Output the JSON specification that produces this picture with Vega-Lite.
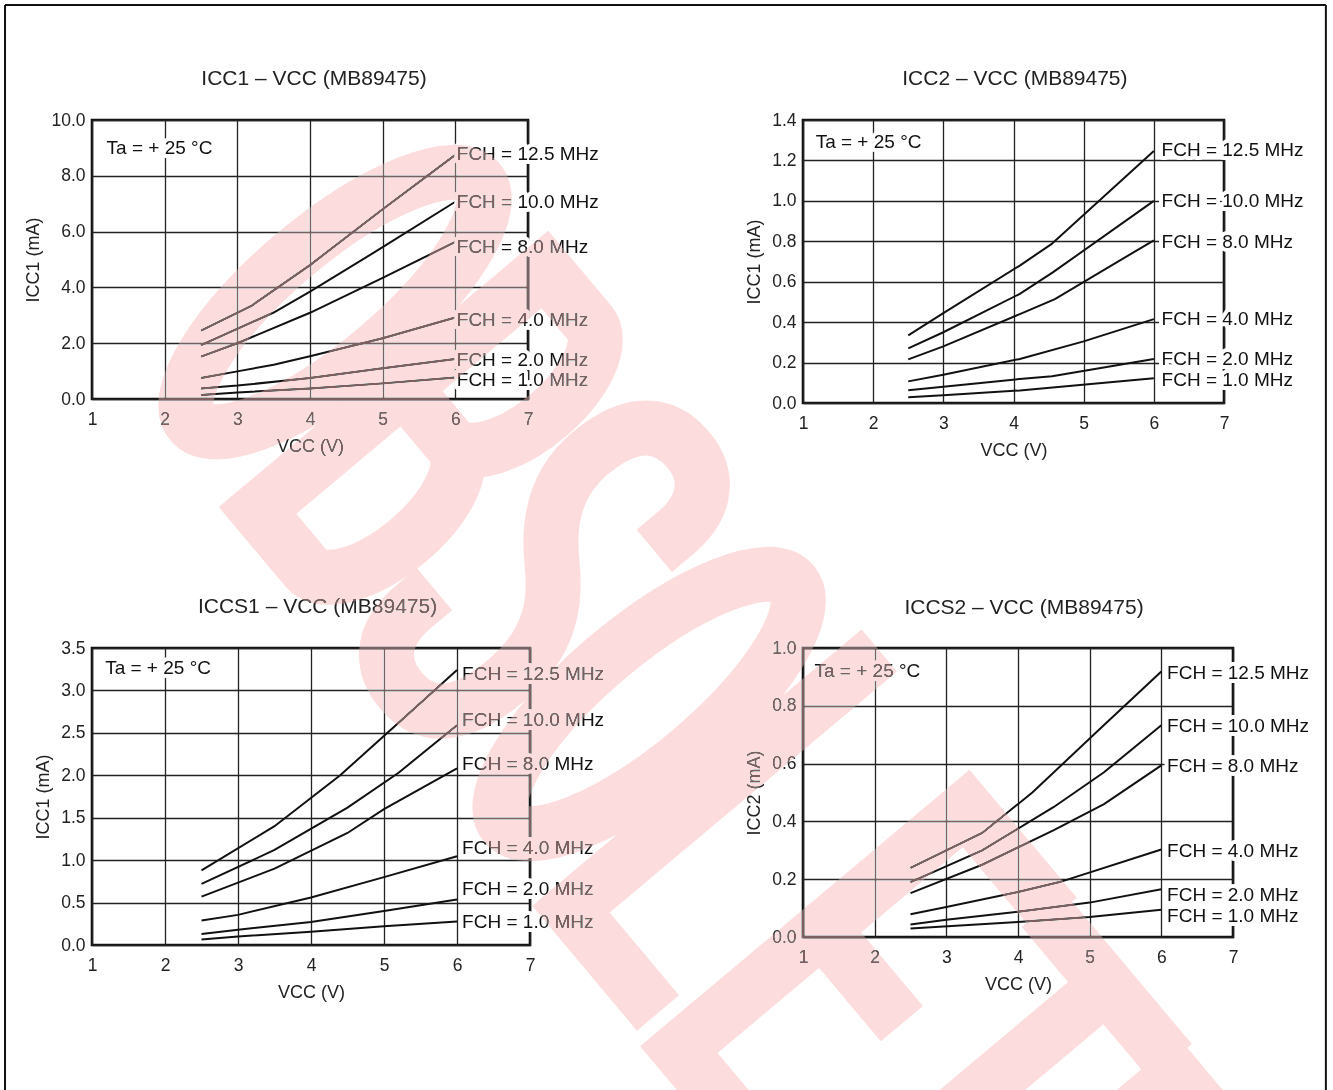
{
  "$schema": "https://vega.github.io/schema/vega-lite/v6.json",
  "background": "white",
  "padding": {"left": 2, "top": 2, "right": 0, "bottom": 0},
  "columns": 2,
  "spacing": {"row": 245, "column": 273},
  "bounds": "flush",
  "datasets": {
    "tl": [
      {"f": "12.5", "v": 2.5, "i": 2.45}, {"f": "12.5", "v": 3.2, "i": 3.35}, {"f": "12.5", "v": 4, "i": 4.8}, {"f": "12.5", "v": 5, "i": 6.8}, {"f": "12.5", "v": 6, "i": 8.75},
      {"f": "10.0", "v": 2.5, "i": 1.93}, {"f": "10.0", "v": 3.5, "i": 3.1}, {"f": "10.0", "v": 4, "i": 3.85}, {"f": "10.0", "v": 5, "i": 5.44}, {"f": "10.0", "v": 6, "i": 7.07},
      {"f": "8.0", "v": 2.5, "i": 1.52}, {"f": "8.0", "v": 3, "i": 2.0}, {"f": "8.0", "v": 4, "i": 3.09}, {"f": "8.0", "v": 5, "i": 4.34}, {"f": "8.0", "v": 6, "i": 5.63},
      {"f": "4.0", "v": 2.5, "i": 0.75}, {"f": "4.0", "v": 3, "i": 0.99}, {"f": "4.0", "v": 3.5, "i": 1.23}, {"f": "4.0", "v": 4, "i": 1.53}, {"f": "4.0", "v": 5, "i": 2.18}, {"f": "4.0", "v": 6, "i": 2.92},
      {"f": "2.0", "v": 2.5, "i": 0.38}, {"f": "2.0", "v": 3, "i": 0.48}, {"f": "2.0", "v": 4, "i": 0.75}, {"f": "2.0", "v": 5, "i": 1.1}, {"f": "2.0", "v": 6, "i": 1.43},
      {"f": "1.0", "v": 2.5, "i": 0.14}, {"f": "1.0", "v": 3, "i": 0.23}, {"f": "1.0", "v": 4, "i": 0.38}, {"f": "1.0", "v": 5, "i": 0.56}, {"f": "1.0", "v": 6, "i": 0.77}
    ],
    "tl_lab": [
      {"v": 6.02, "i": 8.78, "t": "FCH = 12.5 MHz"},
      {"v": 6.02, "i": 7.06, "t": "FCH = 10.0 MHz"},
      {"v": 6.02, "i": 5.45, "t": "FCH = 8.0 MHz"},
      {"v": 6.02, "i": 2.82, "t": "FCH = 4.0 MHz"},
      {"v": 6.02, "i": 1.4, "t": "FCH = 2.0 MHz"},
      {"v": 6.02, "i": 0.68, "t": "FCH = 1.0 MHz"},
      {"v": 1.2, "i": 9.0, "t": "Ta = + 25 °C"}
    ],
    "tl_title": [{"v": 4.055, "i": 11.47, "t": "ICC1 – VCC (MB89475)"}],
    "frame": [
      {"v": -0.197, "i": 14.12, "v2": 17.98, "i2": 14.12},
      {"v": -0.197, "i": 14.12, "v2": -0.197, "i2": -25.0},
      {"v": 17.98, "i": 14.12, "v2": 17.98, "i2": -25.0}
    ],
    "tr": [
      {"f": "12.5", "v": 2.5, "i": 0.335}, {"f": "12.5", "v": 3, "i": 0.445}, {"f": "12.5", "v": 4.09, "i": 0.68}, {"f": "12.5", "v": 4.54, "i": 0.786}, {"f": "12.5", "v": 6, "i": 1.247},
      {"f": "10.0", "v": 2.5, "i": 0.27}, {"f": "10.0", "v": 3, "i": 0.35}, {"f": "10.0", "v": 4.09, "i": 0.54}, {"f": "10.0", "v": 4.56, "i": 0.646}, {"f": "10.0", "v": 6, "i": 1.0},
      {"f": "8.0", "v": 2.5, "i": 0.216}, {"f": "8.0", "v": 3, "i": 0.28}, {"f": "8.0", "v": 4.09, "i": 0.44}, {"f": "8.0", "v": 4.59, "i": 0.514}, {"f": "8.0", "v": 6, "i": 0.805},
      {"f": "4.0", "v": 2.5, "i": 0.107}, {"f": "4.0", "v": 3, "i": 0.14}, {"f": "4.0", "v": 4.09, "i": 0.218}, {"f": "4.0", "v": 5, "i": 0.305}, {"f": "4.0", "v": 6, "i": 0.415},
      {"f": "2.0", "v": 2.5, "i": 0.063}, {"f": "2.0", "v": 3, "i": 0.08}, {"f": "2.0", "v": 4.09, "i": 0.119}, {"f": "2.0", "v": 4.55, "i": 0.132}, {"f": "2.0", "v": 6, "i": 0.218},
      {"f": "1.0", "v": 2.5, "i": 0.029}, {"f": "1.0", "v": 3, "i": 0.038}, {"f": "1.0", "v": 4.09, "i": 0.062}, {"f": "1.0", "v": 6, "i": 0.122}
    ],
    "tr_lab": [
      {"v": 6.11, "i": 1.25, "t": "FCH = 12.5 MHz"},
      {"v": 6.11, "i": 0.998, "t": "FCH = 10.0 MHz"},
      {"v": 6.11, "i": 0.794, "t": "FCH = 8.0 MHz"},
      {"v": 6.11, "i": 0.415, "t": "FCH = 4.0 MHz"},
      {"v": 6.11, "i": 0.218, "t": "FCH = 2.0 MHz"},
      {"v": 6.11, "i": 0.116, "t": "FCH = 1.0 MHz"},
      {"v": 1.18, "i": 1.29, "t": "Ta = + 25 °C"}
    ],
    "tr_title": [{"v": 4.02, "i": 1.603, "t": "ICC2 – VCC (MB89475)"}],
    "bl": [
      {"f": "12.5", "v": 2.5, "i": 0.88}, {"f": "12.5", "v": 3.5, "i": 1.4}, {"f": "12.5", "v": 4.4, "i": 2.0}, {"f": "12.5", "v": 5.2, "i": 2.62}, {"f": "12.5", "v": 6, "i": 3.24},
      {"f": "10.0", "v": 2.5, "i": 0.72}, {"f": "10.0", "v": 3.5, "i": 1.12}, {"f": "10.0", "v": 4.5, "i": 1.62}, {"f": "10.0", "v": 5.2, "i": 2.03}, {"f": "10.0", "v": 6, "i": 2.59},
      {"f": "8.0", "v": 2.5, "i": 0.57}, {"f": "8.0", "v": 3.5, "i": 0.9}, {"f": "8.0", "v": 4.5, "i": 1.32}, {"f": "8.0", "v": 5, "i": 1.6}, {"f": "8.0", "v": 6, "i": 2.08},
      {"f": "4.0", "v": 2.5, "i": 0.29}, {"f": "4.0", "v": 3, "i": 0.355}, {"f": "4.0", "v": 4, "i": 0.56}, {"f": "4.0", "v": 5, "i": 0.8}, {"f": "4.0", "v": 6, "i": 1.045},
      {"f": "2.0", "v": 2.5, "i": 0.13}, {"f": "2.0", "v": 3, "i": 0.18}, {"f": "2.0", "v": 4, "i": 0.27}, {"f": "2.0", "v": 5, "i": 0.4}, {"f": "2.0", "v": 6, "i": 0.537},
      {"f": "1.0", "v": 2.5, "i": 0.065}, {"f": "1.0", "v": 3, "i": 0.1}, {"f": "1.0", "v": 4, "i": 0.155}, {"f": "1.0", "v": 5, "i": 0.22}, {"f": "1.0", "v": 6, "i": 0.277}
    ],
    "bl_lab": [
      {"v": 6.07, "i": 3.19, "t": "FCH = 12.5 MHz"},
      {"v": 6.07, "i": 2.65, "t": "FCH = 10.0 MHz"},
      {"v": 6.07, "i": 2.13, "t": "FCH = 8.0 MHz"},
      {"v": 6.07, "i": 1.14, "t": "FCH = 4.0 MHz"},
      {"v": 6.07, "i": 0.66, "t": "FCH = 2.0 MHz"},
      {"v": 6.07, "i": 0.27, "t": "FCH = 1.0 MHz"},
      {"v": 1.18, "i": 3.26, "t": "Ta = + 25 °C"}
    ],
    "bl_title": [{"v": 4.09, "i": 3.983, "t": "ICCS1 – VCC (MB89475)"}],
    "br": [
      {"f": "12.5", "v": 2.5, "i": 0.239}, {"f": "12.5", "v": 3.5, "i": 0.36}, {"f": "12.5", "v": 4.2, "i": 0.5}, {"f": "12.5", "v": 5.1, "i": 0.71}, {"f": "12.5", "v": 6, "i": 0.919},
      {"f": "10.0", "v": 2.5, "i": 0.19}, {"f": "10.0", "v": 3.5, "i": 0.3}, {"f": "10.0", "v": 4.5, "i": 0.45}, {"f": "10.0", "v": 5.2, "i": 0.57}, {"f": "10.0", "v": 6, "i": 0.733},
      {"f": "8.0", "v": 2.5, "i": 0.152}, {"f": "8.0", "v": 3.5, "i": 0.25}, {"f": "8.0", "v": 4.5, "i": 0.37}, {"f": "8.0", "v": 5.2, "i": 0.46}, {"f": "8.0", "v": 6, "i": 0.594},
      {"f": "4.0", "v": 2.5, "i": 0.079}, {"f": "4.0", "v": 3, "i": 0.104}, {"f": "4.0", "v": 4, "i": 0.156}, {"f": "4.0", "v": 4.58, "i": 0.19}, {"f": "4.0", "v": 6, "i": 0.303},
      {"f": "2.0", "v": 2.5, "i": 0.043}, {"f": "2.0", "v": 3, "i": 0.06}, {"f": "2.0", "v": 4, "i": 0.087}, {"f": "2.0", "v": 5, "i": 0.119}, {"f": "2.0", "v": 6, "i": 0.165},
      {"f": "1.0", "v": 2.5, "i": 0.029}, {"f": "1.0", "v": 4, "i": 0.052}, {"f": "1.0", "v": 5, "i": 0.069}, {"f": "1.0", "v": 6, "i": 0.094}
    ],
    "br_lab": [
      {"v": 6.08, "i": 0.915, "t": "FCH = 12.5 MHz"},
      {"v": 6.08, "i": 0.73, "t": "FCH = 10.0 MHz"},
      {"v": 6.08, "i": 0.59, "t": "FCH = 8.0 MHz"},
      {"v": 6.08, "i": 0.298, "t": "FCH = 4.0 MHz"},
      {"v": 6.08, "i": 0.144, "t": "FCH = 2.0 MHz"},
      {"v": 6.08, "i": 0.072, "t": "FCH = 1.0 MHz"},
      {"v": 1.16, "i": 0.92, "t": "Ta = + 25 °C"}
    ],
    "br_title": [{"v": 4.084, "i": 1.138, "t": "ICCS2 – VCC (MB89475)"}],
    "watermark": [
      {"v": -5.53, "i": 2.197, "t": "O"},
      {"v": -4.069, "i": 1.734, "t": "B"},
      {"v": -2.608, "i": 1.27, "t": "S"},
      {"v": -1.147, "i": 0.806, "t": "O"},
      {"v": 0.25, "i": 0.37, "t": "L"},
      {"v": 1.774, "i": -0.121, "t": "E"},
      {"v": 3.235, "i": -0.585, "t": "T"},
      {"v": 4.696, "i": -1.048, "t": "E"}
    ]
  },
  "concat": [
    {
      "width": 436, "height": 279,
      "encoding": {
        "x": {"field": "v", "type": "quantitative", "scale": {"domain": [1, 7], "nice": false, "zero": false}, "axis": {"values": [1, 2, 3, 4, 5, 6, 7], "format": "d", "title": "VCC (V)"}},
        "y": {"field": "i", "type": "quantitative", "scale": {"domain": [0, 10], "nice": false, "zero": false}, "axis": {"values": [0, 2, 4, 6, 8, 10], "format": ".1f", "title": "ICC1 (mA)"}}
      },
      "layer": [
        {"data": {"name": "tl"}, "mark": {"type": "line", "color": "#111", "strokeWidth": 2}, "encoding": {"detail": {"field": "f"}}},
        {"data": {"name": "tl_lab"}, "mark": {"type": "text", "align": "left", "baseline": "middle", "fontSize": 19, "fill": "white", "stroke": "white", "strokeWidth": 8, "strokeJoin": "round"}, "encoding": {"text": {"field": "t"}}},
        {"data": {"name": "tl_lab"}, "mark": {"type": "text", "align": "left", "baseline": "middle", "fontSize": 19, "fill": "#111"}, "encoding": {"text": {"field": "t"}}},
        {"data": {"name": "tl_title"}, "mark": {"type": "text", "align": "center", "baseline": "middle", "fontSize": 21, "fill": "#222"}, "encoding": {"text": {"field": "t"}}},
        {"data": {"name": "frame"}, "mark": {"type": "rule", "color": "#111", "strokeWidth": 2}, "encoding": {"x2": {"field": "v2"}, "y2": {"field": "i2"}}}
      ]
    },
    {
      "width": 421, "height": 283,
      "encoding": {
        "x": {"field": "v", "type": "quantitative", "scale": {"domain": [1, 7], "nice": false, "zero": false}, "axis": {"values": [1, 2, 3, 4, 5, 6, 7], "format": "d", "title": "VCC (V)"}},
        "y": {"field": "i", "type": "quantitative", "scale": {"domain": [0, 1.4], "nice": false, "zero": false}, "axis": {"values": [0, 0.2, 0.4, 0.6, 0.8, 1.0, 1.2, 1.4], "format": ".1f", "title": "ICC1 (mA)"}}
      },
      "layer": [
        {"data": {"name": "tr"}, "mark": {"type": "line", "color": "#111", "strokeWidth": 2}, "encoding": {"detail": {"field": "f"}}},
        {"data": {"name": "tr_lab"}, "mark": {"type": "text", "align": "left", "baseline": "middle", "fontSize": 19, "fill": "white", "stroke": "white", "strokeWidth": 8, "strokeJoin": "round"}, "encoding": {"text": {"field": "t"}}},
        {"data": {"name": "tr_lab"}, "mark": {"type": "text", "align": "left", "baseline": "middle", "fontSize": 19, "fill": "#111"}, "encoding": {"text": {"field": "t"}}},
        {"data": {"name": "tr_title"}, "mark": {"type": "text", "align": "center", "baseline": "middle", "fontSize": 21, "fill": "#222"}, "encoding": {"text": {"field": "t"}}}
      ]
    },
    {
      "width": 438, "height": 297,
      "encoding": {
        "x": {"field": "v", "type": "quantitative", "scale": {"domain": [1, 7], "nice": false, "zero": false}, "axis": {"values": [1, 2, 3, 4, 5, 6, 7], "format": "d", "title": "VCC (V)"}},
        "y": {"field": "i", "type": "quantitative", "scale": {"domain": [0, 3.5], "nice": false, "zero": false}, "axis": {"values": [0, 0.5, 1, 1.5, 2, 2.5, 3, 3.5], "format": ".1f", "title": "ICC1 (mA)"}}
      },
      "layer": [
        {"data": {"name": "bl"}, "mark": {"type": "line", "color": "#111", "strokeWidth": 2}, "encoding": {"detail": {"field": "f"}}},
        {"data": {"name": "bl_lab"}, "mark": {"type": "text", "align": "left", "baseline": "middle", "fontSize": 19, "fill": "white", "stroke": "white", "strokeWidth": 8, "strokeJoin": "round"}, "encoding": {"text": {"field": "t"}}},
        {"data": {"name": "bl_lab"}, "mark": {"type": "text", "align": "left", "baseline": "middle", "fontSize": 19, "fill": "#111"}, "encoding": {"text": {"field": "t"}}},
        {"data": {"name": "bl_title"}, "mark": {"type": "text", "align": "center", "baseline": "middle", "fontSize": 21, "fill": "#222"}, "encoding": {"text": {"field": "t"}}}
      ]
    },
    {
      "width": 430, "height": 289,
      "encoding": {
        "x": {"field": "v", "type": "quantitative", "scale": {"domain": [1, 7], "nice": false, "zero": false}, "axis": {"values": [1, 2, 3, 4, 5, 6, 7], "format": "d", "title": "VCC (V)"}},
        "y": {"field": "i", "type": "quantitative", "scale": {"domain": [0, 1.0], "nice": false, "zero": false}, "axis": {"values": [0, 0.2, 0.4, 0.6, 0.8, 1.0], "format": ".1f", "title": "ICC2 (mA)"}}
      },
      "layer": [
        {"data": {"name": "br"}, "mark": {"type": "line", "color": "#111", "strokeWidth": 2}, "encoding": {"detail": {"field": "f"}}},
        {"data": {"name": "br_lab"}, "mark": {"type": "text", "align": "left", "baseline": "middle", "fontSize": 19, "fill": "white", "stroke": "white", "strokeWidth": 8, "strokeJoin": "round"}, "encoding": {"text": {"field": "t"}}},
        {"data": {"name": "br_lab"}, "mark": {"type": "text", "align": "left", "baseline": "middle", "fontSize": 19, "fill": "#111"}, "encoding": {"text": {"field": "t"}}},
        {"data": {"name": "br_title"}, "mark": {"type": "text", "align": "center", "baseline": "middle", "fontSize": 21, "fill": "#222"}, "encoding": {"text": {"field": "t"}}},
        {"data": {"name": "watermark"}, "mark": {"type": "point", "filled": false, "size": 160000, "angle": 50, "stroke": "#fcdcdc", "strokeWidth": 55, "strokeCap": "square", "strokeJoin": "miter", "opacity": 1, "strokeOpacity": 1, "blend": "darken"},
         "encoding": {"shape": {"field": "t", "type": "nominal", "legend": null, "scale": {"domain": ["O", "B", "S", "L", "E", "T"], "range": [
           "M 0 -0.9375 A 0.3125 0.9375 0 1 1 0 0.9375 A 0.3125 0.9375 0 1 1 0 -0.9375 Z",
           "M -0.3 0.9375 L -0.3 -0.9375 L 0.05 -0.9375 A 0.22 0.46 0 0 1 0.05 -0.0175 L -0.3 -0.0175 M 0.05 -0.0175 L 0.08 -0.0175 A 0.22 0.4775 0 0 1 0.08 0.9375 L -0.3 0.9375",
           "M 0.28 -0.62 C 0.28 -0.85 0.15 -0.9375 0 -0.9375 C -0.18 -0.9375 -0.3 -0.82 -0.3 -0.55 C -0.3 -0.3 -0.15 -0.15 0 -0.05 C 0.15 0.05 0.3 0.2 0.3 0.5 C 0.3 0.82 0.18 0.9375 0 0.9375 C -0.15 0.9375 -0.28 0.85 -0.28 0.62",
           "M -0.27 -0.9375 L -0.27 0.9375 L 0.27 0.9375",
           "M 0.28 -0.9375 L -0.28 -0.9375 L -0.28 0.9375 L 0.28 0.9375 M -0.28 0 L 0.2 0",
           "M -0.36 -0.9375 L 0.36 -0.9375 M 0 -0.9375 L 0 0.9375"
         ]}}}},
        {"data": {"name": "watermark"}, "mark": {"type": "point", "filled": false, "size": 160000, "angle": 50, "stroke": "#7d5f5f", "strokeWidth": 55, "strokeCap": "square", "strokeJoin": "miter", "opacity": 1, "strokeOpacity": 1, "blend": "lighten"},
         "encoding": {"shape": {"field": "t", "type": "nominal", "legend": null}}}
      ]
    }
  ],
  "config": {
    "font": "Liberation Sans",
    "view": {"stroke": "#111", "strokeWidth": 2.6},
    "axis": {
      "grid": true, "gridColor": "#222", "gridWidth": 1.3, "gridOpacity": 1,
      "ticks": false, "domain": false,
      "labelFont": "Liberation Sans", "labelFontSize": 17.5, "labelColor": "#222", "labelFlush": false, "labelOverlap": false,
      "titleFont": "Liberation Sans", "titleFontSize": 18, "titleFontWeight": "normal", "titleColor": "#222"
    },
    "axisX": {"labelPadding": 11, "titlePadding": 10},
    "axisY": {"labelPadding": 7, "titlePadding": 8}
  }
}
